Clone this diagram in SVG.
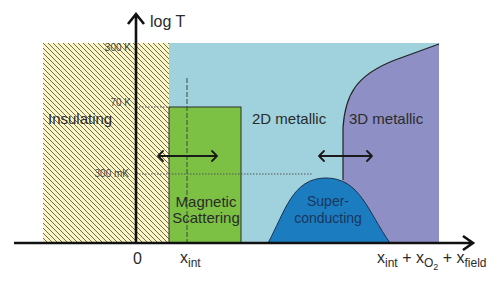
<svg xmlns="http://www.w3.org/2000/svg" width="498" height="282" viewBox="0 0 498 282">
<style>
.lbl{font-family:"Liberation Sans",Arial,sans-serif;font-size:15px;fill:#2b2b2b}
.tick{font-family:"Liberation Sans",Arial,sans-serif;font-size:10px;fill:#444;text-anchor:end}
.sub{font-size:12px}
.ax{stroke:#111;stroke-width:2.6;fill:none}
.dbl{stroke:#1a1a1a;stroke-width:1.8;fill:none;stroke-linecap:round;stroke-linejoin:round}
.dot{stroke:#555;stroke-width:1;stroke-dasharray:1.5,1.5;fill:none}
</style>
<defs>
<pattern id="hatch" patternUnits="userSpaceOnUse" width="5" height="5">
<rect width="5" height="5" fill="#fcf5c6"/>
<path d="M0,0L5,5M-1,4L1,6M4,-1L6,1" stroke="#5e5c42" stroke-width="0.9"/>
</pattern>
</defs>
<rect width="498" height="282" fill="#fff"/>
<g id="insulating"><rect x="43" y="43" width="126" height="200" fill="url(#hatch)"/></g>
<g id="metallic2d"><rect x="169" y="43" width="270" height="200" fill="#a0d2dd"/></g>
<g id="metallic3d">
<path d="M343,243 L343,128 C345,95 356,75 395,60 L439,44 L439,243 Z" fill="#8e8fc4"/>
<path d="M343,180 L343,128 C345,95 356,75 395,60 L439,44" stroke="#222" stroke-width="1.2" fill="none"/>
</g>
<g id="magnetic"><rect x="169" y="107" width="72" height="136" fill="#7cc143" stroke="#2e2e2e" stroke-width="1"/></g>
<g id="superconducting"><path d="M268,243 C285,212 292,178 326,178 C360,178 368,212 390,243 Z" fill="#1b7dbf" stroke="#1a3050" stroke-width="1"/></g>
<g id="guides">
<line x1="187" y1="78" x2="187" y2="243" stroke="#3c4a3c" stroke-width="1" stroke-dasharray="5,2"/>
<line class="dot" x1="136" y1="107" x2="169" y2="107"/>
<line class="dot" x1="136" y1="174" x2="312" y2="174"/>
</g>
<g id="connectors">
<path class="ax" d="M14,243 L473,243 M463,236 L473,243 L463,250"/>
<path class="ax" d="M136,243 L136,14 M128,24 L136,14 L144,24"/>
<path class="dbl" d="M158,156 L217,156 M163,151 L158,156 L163,161 M212,151 L217,156 L212,161"/>
<path class="dbl" d="M319,156 L372,156 M324,151 L319,156 L324,161 M367,151 L372,156 L367,161"/>
</g>
<g id="labels">
<text class="tick" x="131" y="51">300 K</text>
<text class="tick" x="131" y="106">70 K</text>
<text class="tick" x="129" y="177">300 mK</text>
<text class="lbl" x="150" y="27" style="font-size:16px">log T</text>
<text class="lbl" x="48" y="124">Insulating</text>
<text class="lbl" x="252" y="124">2D metallic</text>
<text class="lbl" x="349" y="124">3D metallic</text>
<text class="lbl" x="206" y="207" text-anchor="middle">Magnetic</text>
<text class="lbl" x="206" y="223" text-anchor="middle">Scattering</text>
<text class="lbl" x="328" y="206" text-anchor="middle" style="fill:#1a3560;font-size:14px">Super-</text>
<text class="lbl" x="328" y="223" text-anchor="middle" style="fill:#1a3560;font-size:14px">conducting</text>
<text class="lbl" x="133" y="264" style="font-size:16px">0</text>
<text class="lbl" x="180" y="263" style="font-size:16px">x<tspan class="sub" dy="4">int</tspan></text>
<text class="lbl" x="377" y="263" style="font-size:16px">x<tspan class="sub" dy="4">int</tspan><tspan dy="-4"> + x</tspan><tspan class="sub" dy="4">O</tspan><tspan style="font-size:9px" dy="3">2</tspan><tspan dy="-7"> + x</tspan><tspan class="sub" dy="4">field</tspan></text>
</g>
</svg>
